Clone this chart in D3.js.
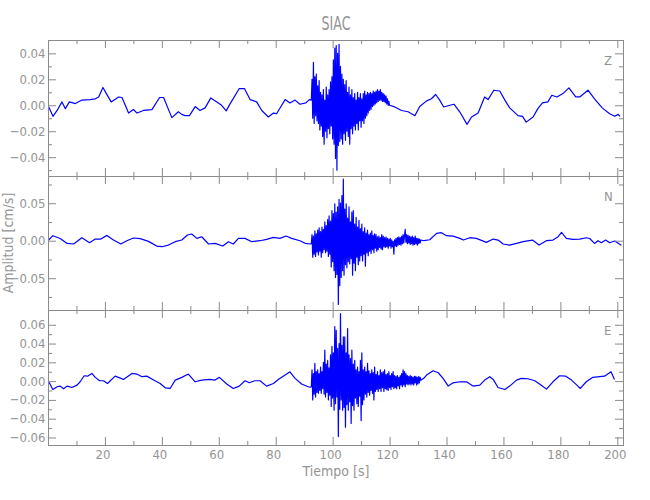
<!DOCTYPE html>
<html>
<head>
<meta charset="utf-8">
<script src="https://cdn.jsdelivr.net/npm/d3@7"></script>
<style>
  html, body { margin: 0; padding: 0; background: #ffffff; }
  svg { display: block; }
  text { font-family: "Liberation Sans Narrow", "DejaVu Sans Condensed", "Roboto", sans-serif; fill: #949494; }
</style>
</head>
<body>
<svg id="chart" width="650" height="500"></svg>
<script>
// ---------------- DATA ----------------
const title = "SIAC";
const xLabel = "Tiempo [s]";
const yLabel = "Amplitud [cm/s]";
const components = ["Z", "N", "E"];

const xDomain = [0, 202];
const xTickValues = [20, 40, 60, 80, 100, 120, 140, 160, 180, 200];
const xMinorTicks = [10, 30, 50, 70, 90, 110, 130, 150, 170, 190];

const yDomainZ = [-0.0545, 0.0503];
const yDomainN = [-0.0924, 0.0863];
const yDomainE = [-0.068, 0.0757];
const yTicksZ = [-0.04, -0.02, 0.00, 0.02, 0.04];
const yMinorZ = [-0.05, -0.03, -0.01, 0.01, 0.03];
const yTicksN = [-0.05, 0.00, 0.05];
const yMinorN = [-0.075, -0.025, 0.025, 0.075];
const yTicksE = [-0.06, -0.04, -0.02, 0.00, 0.02, 0.04, 0.06];
const yMinorE = [-0.05, -0.03, -0.01, 0.01, 0.03, 0.05];

// slow (long-period) part of each trace: times [s] and amplitudes [cm/s]
const timeZ = [0, 1.75, 3.2, 4.9, 6.1, 7.5, 9.6, 11.9, 14.8, 16.6, 17.8, 19.3, 20.5, 22.2, 24.8, 26, 28.3, 30, 31.3, 33.5, 36.5, 39.2, 40.6, 43.5, 45.8, 47, 48.2, 49.7, 51.7, 53.4, 55.2, 57.2, 59.3, 61, 62.6, 64, 67.2, 69, 71, 73.3, 75.1, 77.4, 79.2, 80.3, 83.3, 85, 86.8, 88.5, 90.6, 91.8,
  121.5, 124.2, 126.5, 128.9, 130.6, 133, 134.7, 136.2, 137.6, 139, 141.2, 142.6, 144.7, 147.2, 148.8, 151.1, 153.4, 154.6, 156.6, 158.7, 160.5, 162.2, 165.1, 166.7, 168, 170.4, 172.1, 173.7, 175.6, 177, 178.8, 180.9, 183, 185.4, 186.8, 189.7, 192, 194.7, 197.3, 199.1, 200.3, 200.9];
const ampZ = [0, -0.0085, -0.004, 0.0026, -0.0026, 0.0026, 0.0013, 0.004, 0.0044, 0.005, 0.0064, 0.0137, 0.009, 0.0026, 0.0064, 0.006, -0.006, -0.0033, -0.006, -0.004, -0.0034, 0.006, 0.006, -0.0095, -0.005, -0.007, -0.008, -0.008, -0.001, -0.004, -0.002, 0.0057, 0.0026, 0, -0.0043, 0.0013, 0.0129, 0.0129, 0.0044, 0.0026, -0.004, -0.009, -0.006, -0.0065, 0.0044, 0.0018, 0.004, 0.0008, 0.0018, 0.0044,
  -0.001, -0.004, -0.005, -0.008, -0.001, 0.0034, 0.005, 0.0083, 0.004, -0.0013, 0, 0.0008, -0.0052, -0.0147, -0.009, -0.006, 0.0064, 0.0044, 0.0116, 0.011, 0.004, -0.002, -0.008, -0.0085, -0.013, -0.009, -0.0026, 0.0018, 0.0026, 0.0077, 0.0064, 0.009, 0.0134, 0.0064, 0.0064, 0.0116, 0.005, -0.002, -0.0065, -0.0085, -0.007, -0.0085];

const timeN = [0, 1.7, 4.3, 6.7, 9, 11.9, 14.6, 16.6, 18.4, 20.7, 23, 25.6, 27.7, 30, 32.4, 35.3, 38.2, 40, 42.3, 44.7, 47, 49, 50.5, 52.3, 54, 56.4, 58.7, 61.4, 63.4, 65.1, 66.9, 69.2, 71.6, 74.5, 76.8, 79.2, 81.5, 83.6, 85.6, 88.5, 90.3, 92.3,
  132, 134.1, 136.5, 138.2, 140, 142.3, 144.7, 145.9, 148.2, 150.5, 154, 156.4, 158.1, 159.9, 162.2, 164.6, 166.9, 170.2, 172.5, 175.1, 177.4, 179.2, 180.4, 182.1, 184.4, 186.8, 189.1, 190.3, 192, 193.2, 194.4, 195.9, 197.3, 199.1, 201.4];
const ampN = [0, 0.0067, 0.003, -0.0036, -0.0044, 0.004, -0.0027, 0.0022, 0.002, 0.0071, 0.0009, -0.0044, 0, 0.0036, 0.0027, -0.0009, -0.0071, -0.008, -0.0058, -0.0013, 0.0009, 0.0076, 0.0089, 0.0031, 0.0053, -0.0044, -0.0036, -0.0071, -0.0013, -0.0044, 0.0031, 0.0031, -0.0013, 0, 0.0018, 0.0044, 0.0031, 0.0062, 0.0031, 0, -0.0035, -0.0044,
  0.0, 0.0013, 0.0098, 0.0107, 0.0067, 0.0062, 0.0031, 0.0009, 0.004, 0.0031, -0.0022, 0.0022, 0.0009, -0.0044, -0.0058, -0.0036, -0.0013, 0.0009, -0.0058, 0, 0.0009, 0.0053, 0.011, 0.0031, 0.0018, 0.0022, 0.004, 0.003, -0.0036, 0, -0.0027, 0.0009, -0.0027, -0.0004, -0.0062];

const timeE = [0, 1.7, 3.2, 4.3, 5.5, 6.7, 8.4, 10.2, 11.3, 12.7, 13.9, 15.4, 16.6, 18.1, 19.5, 20.9, 23.6, 26.5, 29.5, 31.2, 33, 34.7, 37.1, 39.4, 41.2, 42.9, 44.7, 47, 49.3, 51.7, 54, 56.7, 58.7, 60.2, 62.8, 65.1, 67.2, 69.2, 70.7, 72.7, 74.5, 76.8, 79.2, 80.9, 83.3, 85, 86.8, 89.1, 91.4, 92.2,
  132, 133, 135.3, 137.1, 138.8, 140.6, 142.3, 144.7, 147, 149.3, 151.7, 153.4, 155.2, 156.4, 158.1, 160.5, 162.2, 164.6, 166.3, 168.6, 171, 173.3, 175.1, 177.4, 179.7, 181.9, 183.9, 185.8, 187, 189.1, 191.4, 193.8, 195.5, 197.8, 199];
const ampE = [0.001, -0.0089, -0.006, -0.0053, -0.0082, -0.0053, -0.0068, -0.0043, -0.0007, 0.0057, 0.0053, 0.0082, 0.004, 0.0004, 0.0004, -0.0025, 0.0053, 0.0018, 0.0082, 0.0075, 0.0047, 0.0053, 0.0011, -0.0025, -0.0071, -0.0078, 0.0011, 0.004, 0.0075, -0.0007, 0.0011, 0.0018, 0.0011, 0.004, -0.003, -0.0078, -0.0053, 0.0004, -0.0018, 0.0004, 0.0004, -0.0053, -0.0025, 0.0018, 0.0064, 0.0099, 0.0029, -0.003, -0.006, -0.0065,
  0.003, 0.0064, 0.011, 0.0089, 0.0029, -0.0053, -0.0018, -0.0007, -0.0007, -0.0053, -0.0043, 0.0011, 0.0047, 0.0018, -0.0068, -0.0089, -0.0053, 0.0011, 0.0029, 0.0025, 0.0004, -0.0043, -0.0085, -0.0007, 0.0057, 0.0053, 0.0011, -0.0043, -0.0078, -0.0007, 0.004, 0.0047, 0.0053, 0.0099, 0.0018];

// strong-motion part (successive peaks, one every 0.25 s from 92.5 s)
const burstStart = 92.5;
const burstStep = 0.25;
const burstZ = [0.004, 0.020, -0.010, 0.033, -0.014, 0.022, -0.008, 0.024, -0.012, 0.015, -0.014, 0.019, -0.019, 0.010, -0.016, 0.008, -0.024, 0.012, -0.030, 0.004,
  -0.020, 0.014, -0.025, 0.008, -0.018, 0.012, -0.022, 0.018, -0.016, 0.022, -0.026, 0.035, -0.030, 0.044, -0.041, 0.046, -0.050, 0.040, -0.031, 0.047,
  -0.028, 0.030, -0.026, 0.024, -0.030, 0.020, -0.022, 0.016, -0.027, 0.019, -0.020, 0.010, -0.024, 0.014, -0.030, 0.008, -0.018, 0.012, -0.022, 0.006,
  -0.016, 0.009, -0.019, 0.004, -0.014, 0.010, -0.019, 0.006, -0.012, 0.009, -0.017, 0.005, -0.012, 0.009, -0.014, 0.011, -0.010, 0.008, -0.008, 0.010,
  -0.006, 0.009, -0.004, 0.010, -0.003, 0.009, -0.001, 0.011, 0.000, 0.010, 0.001, 0.011, 0.002, 0.012, 0.003, 0.011, 0.004, 0.012, 0.004, 0.010,
  0.003, 0.009, 0.003, 0.008, 0.002, 0.007, 0.001, 0.005, 0.000, 0.003, 0.000];
const burstN = [-0.004, 0.008, -0.022, 0.006, -0.018, 0.013, -0.021, 0.009, -0.015, 0.014, -0.019, 0.017, -0.014, 0.012, -0.022, 0.018, -0.016, 0.015, -0.012, 0.025,
  -0.016, 0.020, -0.014, 0.028, -0.021, 0.033, -0.018, 0.026, -0.035, 0.040, -0.028, 0.036, -0.040, 0.049, -0.049, 0.038, -0.045, 0.045, -0.085, 0.055,
  -0.060, 0.050, -0.049, 0.060, -0.040, 0.082, -0.046, 0.042, -0.032, 0.049, -0.036, 0.030, -0.028, 0.045, -0.031, 0.025, -0.024, 0.038, -0.046, 0.040,
  -0.030, 0.022, -0.040, 0.031, -0.022, 0.018, -0.032, 0.027, -0.027, 0.016, -0.020, 0.022, -0.027, 0.012, -0.018, 0.017, -0.034, 0.010, -0.016, 0.014,
  -0.020, 0.008, -0.014, 0.010, -0.017, 0.013, -0.012, 0.007, -0.016, 0.009, -0.010, 0.008, -0.014, 0.005, -0.012, 0.006, -0.009, 0.004, -0.011, 0.008,
  -0.012, 0.006, -0.008, 0.004, -0.009, 0.005, -0.008, 0.003, -0.010, 0.002, -0.007, 0.003, -0.010, 0.001, -0.008, -0.001, -0.018, 0.001, -0.007, 0.003,
  -0.008, 0.004, -0.006, 0.005, -0.005, 0.004, -0.006, 0.006, -0.004, 0.008, -0.003, 0.007, 0.015, -0.002, 0.008, -0.004, 0.007, -0.003, 0.006, -0.005,
  0.005, -0.004, 0.006, -0.006, 0.004, -0.005, 0.006, -0.004, 0.003, -0.006, 0.003, -0.004, 0.002, -0.003, 0.001];
const burstE = [-0.006, 0.012, -0.020, 0.008, -0.014, 0.019, -0.017, 0.010, -0.012, 0.012, -0.013, 0.008, -0.010, 0.015, -0.013, 0.010, -0.008, 0.020, -0.014, 0.033,
  -0.017, 0.018, -0.012, 0.022, -0.020, 0.014, -0.015, 0.028, -0.027, 0.037, -0.018, 0.030, -0.031, 0.058, -0.024, 0.054, -0.017, 0.035, -0.059, 0.040,
  -0.030, 0.072, -0.020, 0.038, -0.031, 0.047, -0.028, 0.047, -0.049, 0.030, -0.025, 0.056, -0.031, 0.028, -0.022, 0.024, -0.045, 0.033, -0.026, 0.018,
  -0.031, 0.022, -0.018, 0.012, -0.024, 0.015, -0.027, 0.010, -0.016, 0.022, -0.042, 0.030, -0.025, 0.012, -0.020, 0.015, -0.014, 0.010, -0.017, 0.019,
  -0.012, 0.011, -0.015, 0.008, -0.010, 0.012, -0.013, 0.009, -0.020, 0.015, -0.011, 0.007, -0.009, 0.010, -0.011, 0.006, -0.008, 0.012, -0.011, 0.009,
  -0.007, 0.010, -0.011, 0.012, -0.008, 0.007, -0.009, 0.008, -0.010, 0.010, -0.007, 0.006, -0.009, 0.008, -0.006, 0.010, -0.008, 0.006, -0.007, 0.005,
  -0.008, 0.006, -0.005, 0.004, -0.008, 0.006, -0.004, 0.008, -0.006, 0.012, -0.004, 0.010, -0.006, 0.008, -0.003, 0.006, -0.004, 0.005, -0.003, 0.006,
  -0.004, 0.005, -0.003, 0.004, -0.004, 0.005, -0.002, 0.005, -0.004, 0.004, -0.003, 0.005, -0.002, 0.004, 0.001];

// ---------------- DRAWING ----------------
const svg = d3.select("#chart");
const frameColor = "#8a8a8a";
const traceColor = "#0000ff";

const left = 48, right = 623;
const x = d3.scaleLinear().domain(xDomain).range([left, right]);

const panels = [
  { name: components[0], top: 40, bottom: 176, domain: yDomainZ, ticks: yTicksZ, minor: yMinorZ, time: timeZ, amp: ampZ, burst: burstZ },
  { name: components[1], top: 176, bottom: 310, domain: yDomainN, ticks: yTicksN, minor: yMinorN, time: timeN, amp: ampN, burst: burstN },
  { name: components[2], top: 310, bottom: 445, domain: yDomainE, ticks: yTicksE, minor: yMinorE, time: timeE, amp: ampE, burst: burstE }
];

function buildTrace(time, amp, burst) {
  const burstEnd = burstStart + (burst.length - 1) * burstStep;
  const pts = [];
  time.forEach((t, i) => { if (t < burstStart) pts.push([t, amp[i]]); });
  burst.forEach((v, i) => pts.push([burstStart + i * burstStep, v]));
  time.forEach((t, i) => { if (t > burstEnd) pts.push([t, amp[i]]); });
  return pts;
}

const fmtLabel = v => {
  const s = d3.format(".2f")(Math.abs(v) < 1e-9 ? 0 : v);
  return s.replace("-", "\u2212");
};

function tickGroup(g, axis, tx, ty) {
  g.append("g").attr("transform", `translate(${tx},${ty})`).call(axis)
    .call(a => a.select(".domain").remove())
    .call(a => a.selectAll("line").attr("stroke", frameColor));
}

panels.forEach((p, idx) => {
  const y = d3.scaleLinear().domain(p.domain).range([p.bottom, p.top]);
  const g = svg.append("g");

  const clipId = "clip" + idx;
  svg.append("clipPath").attr("id", clipId)
    .append("rect").attr("x", left).attr("y", p.top).attr("width", right - left).attr("height", p.bottom - p.top);

  // trace
  const line = d3.line().x(d => x(d[0])).y(d => y(d[1]));
  g.append("path")
    .datum(buildTrace(p.time, p.amp, p.burst))
    .attr("clip-path", `url(#${clipId})`)
    .attr("fill", "none")
    .attr("stroke", traceColor)
    .attr("stroke-width", 1.2)
    .attr("stroke-linejoin", "round")
    .attr("d", line);

  // inward ticks on the four sides
  tickGroup(g, d3.axisRight(y).tickValues(p.ticks).tickSize(8).tickFormat(""), left, 0);
  tickGroup(g, d3.axisRight(y).tickValues(p.minor).tickSize(4).tickFormat(""), left, 0);
  tickGroup(g, d3.axisLeft(y).tickValues(p.ticks).tickSize(8).tickFormat(""), right, 0);
  tickGroup(g, d3.axisLeft(y).tickValues(p.minor).tickSize(4).tickFormat(""), right, 0);
  tickGroup(g, d3.axisBottom(x).tickValues(xTickValues).tickSize(8).tickFormat(""), 0, p.top);
  tickGroup(g, d3.axisBottom(x).tickValues(xMinorTicks).tickSize(4).tickFormat(""), 0, p.top);
  tickGroup(g, d3.axisTop(x).tickValues(xTickValues).tickSize(8).tickFormat(""), 0, p.bottom);
  tickGroup(g, d3.axisTop(x).tickValues(xMinorTicks).tickSize(4).tickFormat(""), 0, p.bottom);

  // y tick labels
  g.selectAll(".ylab").data(p.ticks).enter().append("text")
    .attr("x", left - 2.5)
    .attr("y", d => y(d) + 4.5)
    .attr("text-anchor", "end")
    .attr("font-size", 13)
    .text(d => fmtLabel(d));

  // frame
  g.append("rect")
    .attr("x", left + 0.5).attr("y", p.top + 0.5)
    .attr("width", right - left).attr("height", p.bottom - p.top)
    .attr("fill", "none").attr("stroke", frameColor).attr("stroke-width", 1);

  // component label
  g.append("text")
    .attr("x", right - 19)
    .attr("y", p.top + 25)
    .attr("font-size", 13)
    .text(p.name);
});

// x tick labels (bottom panel only)
svg.selectAll(".xlab").data(xTickValues).enter().append("text")
  .attr("x", d => x(d) - 2)
  .attr("y", 459)
  .attr("text-anchor", "middle")
  .attr("font-size", 13)
  .text(d => d);

// titles
svg.append("text")
  .attr("x", 336).attr("y", 30)
  .attr("text-anchor", "middle")
  .attr("font-size", 20)
  .attr("textLength", 29).attr("lengthAdjust", "spacingAndGlyphs")
  .text(title);

svg.append("text")
  .attr("x", 336).attr("y", 476)
  .attr("text-anchor", "middle")
  .attr("font-size", 14)
  .text(xLabel);

svg.append("text")
  .attr("transform", "translate(13,243) rotate(-90)")
  .attr("text-anchor", "middle")
  .attr("font-size", 14)
  .text(yLabel);
</script>
</body>
</html>
